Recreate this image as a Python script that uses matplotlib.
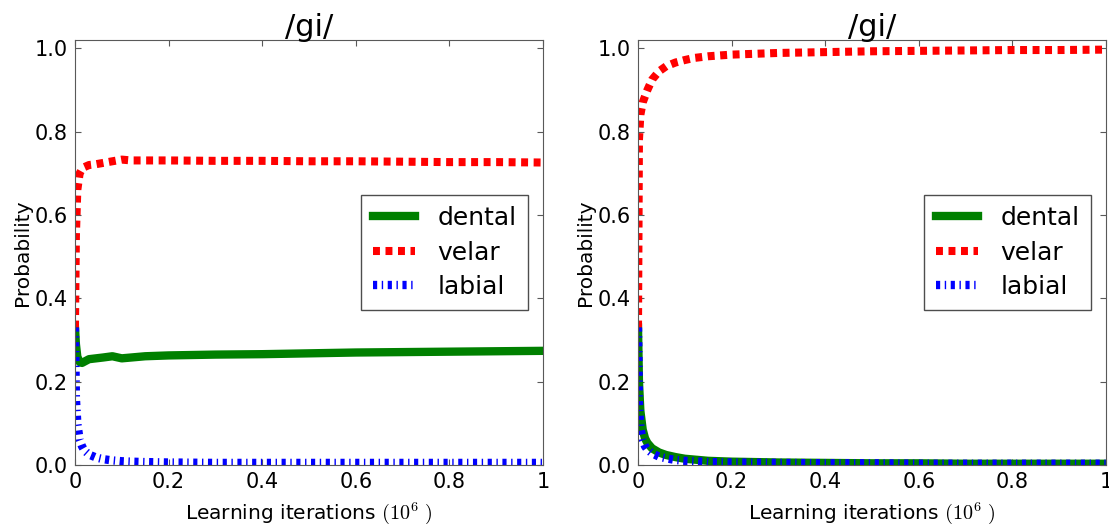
import matplotlib
matplotlib.use("Agg")
import matplotlib.pyplot as plt

plt.rcParams['mathtext.fontset'] = 'cm'
plt.rcParams['lines.scale_dashes'] = False
plt.rcParams['font.family'] = 'DejaVu Sans'

# learning iterations, in units of 10^6
iters = [0, 0.002, 0.005, 0.01, 0.015, 0.02, 0.03, 0.045, 0.06, 0.08, 0.1,
         0.12, 0.15, 0.2, 0.3, 0.4, 0.5, 0.6, 0.7, 0.8, 0.9, 1.0]

# left panel
dental_l = [0.33, 0.29, 0.26, 0.247, 0.245, 0.248, 0.254, 0.256, 0.258, 0.261, 0.256,
            0.258, 0.261, 0.263, 0.265, 0.266, 0.268, 0.27, 0.271, 0.272, 0.273, 0.274]
velar_l = [0.33, 0.55, 0.66, 0.70, 0.71, 0.715, 0.72, 0.722, 0.725, 0.729, 0.733,
           0.731, 0.731, 0.731, 0.730, 0.730, 0.729, 0.729, 0.728, 0.727, 0.727, 0.726]
labial_l = [0.33, 0.16, 0.10, 0.06, 0.045, 0.035, 0.025, 0.018, 0.014, 0.011, 0.009,
            0.008, 0.007, 0.006, 0.005, 0.005, 0.005, 0.005, 0.005, 0.005, 0.005, 0.005]

# right panel
dental_r = [0.33, 0.20, 0.13, 0.085, 0.064, 0.053, 0.04, 0.03, 0.024, 0.019, 0.015,
            0.013, 0.01, 0.008, 0.006, 0.005, 0.004, 0.004, 0.003, 0.003, 0.003, 0.003]
velar_r = [0.33, 0.78, 0.84, 0.87, 0.885, 0.90, 0.925, 0.945, 0.957, 0.966, 0.972,
           0.977, 0.981, 0.985, 0.989, 0.991, 0.993, 0.994, 0.995, 0.996, 0.996, 0.997]
labial_r = [0.33, 0.15, 0.09, 0.06, 0.045, 0.037, 0.028, 0.02, 0.016, 0.012, 0.01,
            0.009, 0.007, 0.006, 0.005, 0.004, 0.004, 0.003, 0.003, 0.003, 0.003, 0.003]

xticks = [0, 0.2, 0.4, 0.6, 0.8, 1]
xticklabels = ['0', '0.2', '0.4', '0.6', '0.8', '1']
yticks = [0, 0.2, 0.4, 0.6, 0.8, 1.0]

panels = [(dental_l, velar_l, labial_l), (dental_r, velar_r, labial_r)]

fig = plt.figure(figsize=(11.09, 5.24), dpi=100)
lefts = [0.0676, 0.5753]

for left, (dental, velar, labial) in zip(lefts, panels):
    ax = fig.add_axes([left, 0.1126, 0.4221, 0.811])
    ax.plot(iters, dental, color='green', lw=6, label='dental')
    ax.plot(iters, velar, color='red', lw=5.8, dashes=(5, 4), label='velar')
    ax.plot(iters, labial, color='blue', lw=6, dashes=(3, 3.3, 1, 3.3), label='labial')
    ax.set_xlim(0, 1)
    ax.set_ylim(0, 1.02)
    ax.set_xticks(xticks)
    ax.set_xticklabels(xticklabels)
    ax.set_yticks(yticks)
    ax.tick_params(direction='in', top=True, right=True, labelsize=15, length=4,
                   color='0.35', pad=5)
    for sp in ax.spines.values():
        sp.set_color('0.35')
    ax.set_title('/gi/', fontsize=22, pad=3)
    ax.set_xlabel(r'Learning iterations $(10^6\ )$', fontsize=14.5, labelpad=6)
    ax.set_ylabel('Probability', fontsize=14.5, labelpad=2)
    leg = ax.legend(loc='center right', fontsize=18, fancybox=False, framealpha=1,
                    handlelength=1.7, handletextpad=0.9, labelspacing=0.42,
                    borderaxespad=0.6, borderpad=0.45)
    leg.get_frame().set_edgecolor('0.3')

fig.savefig('out.png', dpi=100, facecolor='white')
